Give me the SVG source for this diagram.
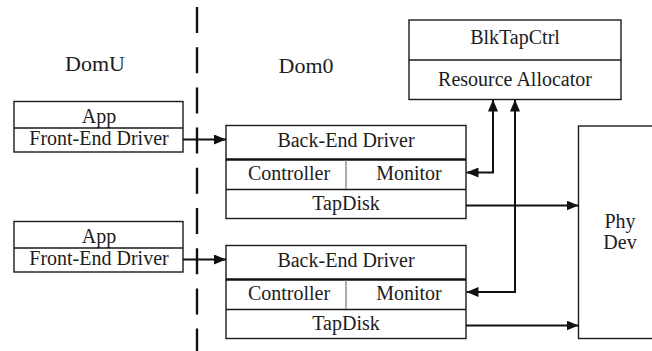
<svg xmlns="http://www.w3.org/2000/svg" width="652" height="351" viewBox="0 0 652 351">
  <style>
    text { font-size: 20px; fill: #1c1c1c; text-anchor: middle; }
    .lbl { font-size: 22px; }
    .box { fill: #ffffff; stroke: #1a1a1a; stroke-width: 1.4; }
    .sep { stroke: #1a1a1a; stroke-width: 1.3; fill: none; }
    .thick { stroke: #111111; stroke-width: 2.4; fill: none; }
    .thin { stroke: #777777; stroke-width: 1.2; fill: none; }
    .conn { stroke: #111111; stroke-width: 2; fill: none; }
    .dash { stroke: #111111; stroke-width: 2.4; stroke-dasharray: 26 14.2; fill: none; }
  </style>
  <defs>
    <marker id="arrow" viewBox="0 0 12 10" refX="12" refY="5" markerWidth="12" markerHeight="10" markerUnits="userSpaceOnUse" orient="auto-start-reverse">
      <path d="M0,0 L12,5 L0,10 Z" fill="#111111"/>
    </marker>
  </defs>

  <rect width="652" height="351" fill="#ffffff"/>

  <g font-family="'Liberation Serif', 'DejaVu Serif', serif">
    <!-- domain boundary -->
    <line class="dash" x1="197" y1="7" x2="197" y2="351"/>
    <text class="lbl" x="95" y="71">DomU</text>
    <text class="lbl" x="306" y="73">Dom0</text>

    <!-- guest front-ends -->
    <g id="domu-app-1">
      <rect class="box" x="14" y="101.5" width="169" height="50.5"/>
      <line class="sep" x1="14" y1="128" x2="183" y2="128"/>
      <text x="99" y="123">App</text>
      <text x="99" y="145">Front-End Driver</text>
    </g>
    <g id="domu-app-2">
      <rect class="box" x="14" y="221.5" width="169" height="50.5"/>
      <line class="sep" x1="14" y1="248" x2="183" y2="248"/>
      <text x="99" y="243">App</text>
      <text x="99" y="265">Front-End Driver</text>
    </g>

    <!-- dom0 back-ends -->
    <g id="backend-1">
      <rect class="box" x="226" y="125.5" width="240" height="93"/>
      <line class="thick" x1="226" y1="159.5" x2="466" y2="159.5"/>
      <line class="sep" x1="226" y1="189.5" x2="466" y2="189.5"/>
      <line class="thin" x1="346" y1="160" x2="346" y2="189"/>
      <text x="346" y="147">Back-End Driver</text>
      <text x="289" y="179.5">Controller</text>
      <text x="409" y="179.5">Monitor</text>
      <text x="346" y="209.5">TapDisk</text>
    </g>
    <g id="backend-2">
      <rect class="box" x="226" y="245.5" width="240" height="93"/>
      <line class="thick" x1="226" y1="279.5" x2="466" y2="279.5"/>
      <line class="sep" x1="226" y1="309.5" x2="466" y2="309.5"/>
      <line class="thin" x1="346" y1="280" x2="346" y2="309"/>
      <text x="346" y="267">Back-End Driver</text>
      <text x="289" y="299.5">Controller</text>
      <text x="409" y="299.5">Monitor</text>
      <text x="346" y="329.5">TapDisk</text>
    </g>

    <g id="blktapctrl">
      <rect class="box" x="409" y="20" width="212" height="79.5"/>
      <line class="sep" x1="409" y1="60" x2="621" y2="60"/>
      <text x="515" y="43.5">BlkTapCtrl</text>
      <text x="515" y="86">Resource Allocator</text>
    </g>

    <g id="phy-dev">
      <rect class="box" x="578.5" y="126" width="90" height="212.5"/>
      <text x="620" y="228">Phy</text>
      <text x="620" y="249">Dev</text>
    </g>
  </g>

  <!-- connectors -->
  <g id="connectors">
    <line class="conn" x1="183" y1="139.5" x2="226" y2="139.5" marker-end="url(#arrow)"/>
    <line class="conn" x1="183" y1="259.5" x2="226" y2="259.5" marker-end="url(#arrow)"/>
    <line class="conn" x1="466" y1="205.5" x2="578.5" y2="205.5" marker-end="url(#arrow)"/>
    <line class="conn" x1="466" y1="325.5" x2="578.5" y2="325.5" marker-end="url(#arrow)"/>
    <polyline class="conn" points="466.5,172.5 493,172.5 493,99.5" marker-start="url(#arrow)" marker-end="url(#arrow)"/>
    <polyline class="conn" points="466.5,292 515,292 515,99.5" marker-start="url(#arrow)" marker-end="url(#arrow)"/>
  </g>
</svg>
